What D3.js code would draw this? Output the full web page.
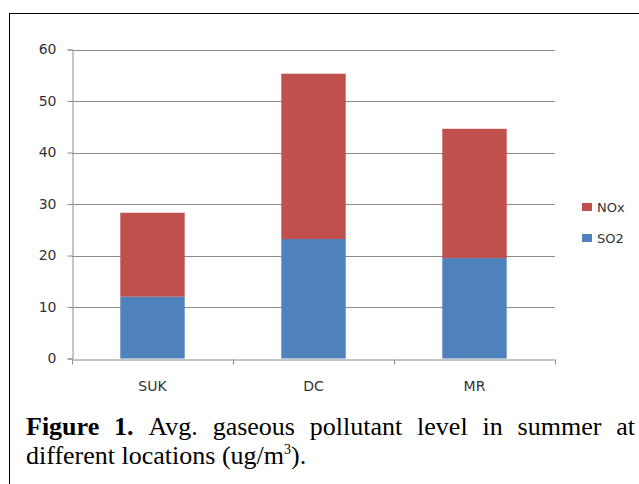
<!DOCTYPE html>
<html>
<head>
<meta charset="utf-8">
<script src="https://cdn.jsdelivr.net/npm/d3@7"></script>
<style>
  body { margin: 0; background: #fff; }
  .tick-label { font-family: "DejaVu Sans", sans-serif; font-size: 14px; fill: #333; }
  .legend-label { font-family: "DejaVu Sans", sans-serif; font-size: 13px; fill: #333; }
  .cap { font-family: "Liberation Serif", "Times New Roman", serif; font-size: 26px; fill: #000; }
</style>
</head>
<body>
<div id="chart"></div>
<script>
var locations = ["SUK", "DC", "MR"];
var so2 = [12.0, 23.2, 19.5];
var nox = [16.3, 32.1, 25.1];
var yTicks = [0, 10, 20, 30, 40, 50, 60];
var seriesNames = ["NOx", "SO2"];
var seriesColors = ["#C0504D", "#4F81BD"];
var captionWords = [["Figure", true], ["1.", true], ["Avg.", false], ["gaseous", false],
  ["pollutant", false], ["level", false], ["in", false], ["summer", false], ["at", false]];

var width = 639, height = 484;
var svg = d3.select("#chart").append("svg")
    .attr("width", width)
    .attr("height", height);

// outer frame
svg.append("rect")
    .attr("x", 9.5).attr("y", 13.5)
    .attr("width", 640).attr("height", 480)
    .attr("fill", "none").attr("stroke", "#000").attr("stroke-width", 1);

var x = d3.scaleBand()
    .domain(locations)
    .range([72, 555])
    .paddingInner(0.6)
    .paddingOuter(0.3);
var y = d3.scaleLinear()
    .domain([0, 60])
    .range([358.5, 49.5]);

// gridlines
svg.append("g").selectAll("line")
    .data(yTicks.filter(function(d) { return d > 0; }))
    .enter().append("line")
    .attr("x1", 72).attr("x2", 555)
    .attr("y1", function(d) { return Math.round(y(d)) + 0.5; })
    .attr("y2", function(d) { return Math.round(y(d)) + 0.5; })
    .attr("stroke", "#8c8c8c");

// stacked bars
var rows = locations.map(function(l, i) { return { loc: l, SO2: so2[i], NOx: nox[i] }; });
var stack = d3.stack().keys(["SO2", "NOx"])(rows);
svg.append("g").selectAll("g")
    .data(stack)
    .enter().append("g")
    .attr("fill", function(d) { return d.key == "SO2" ? seriesColors[1] : seriesColors[0]; })
    .selectAll("rect")
    .data(function(d) { return d; })
    .enter().append("rect")
    .attr("x", function(d) { return x(d.data.loc); })
    .attr("width", x.bandwidth())
    .attr("y", function(d) { return y(d[1]); })
    .attr("height", function(d) { return y(d[0]) - y(d[1]); });

// y axis
var yAxis = d3.axisLeft(y).tickValues(yTicks).tickSize(5).tickPadding(11);
var yg = svg.append("g")
    .attr("transform", "translate(72.5,0)")
    .call(yAxis);
yg.select(".domain").attr("stroke", "#8c8c8c");
yg.selectAll(".tick line").attr("stroke", "#8c8c8c");
yg.selectAll(".tick text").attr("class", "tick-label").attr("font-family", null).attr("font-size", null);

// x axis
var xAxis = d3.axisBottom(x).tickSize(0).tickPadding(22);
var xg = svg.append("g")
    .attr("transform", "translate(0," + (Math.round(y(0)) + 0.5) + ")")
    .call(xAxis);
xg.select(".domain").attr("stroke", "#8c8c8c");
xg.selectAll(".tick text").attr("class", "tick-label").attr("font-family", null).attr("font-size", null);
// tick marks between categories
var edges = locations.map(function(l) { return x(l) - x.step() * x.paddingInner() / 2; });
edges.push(555);
xg.selectAll(".edge")
    .data(edges)
    .enter().append("line")
    .attr("x1", function(d) { return Math.round(d) + 0.5; })
    .attr("x2", function(d) { return Math.round(d) + 0.5; })
    .attr("y1", 0).attr("y2", 5)
    .attr("stroke", "#8c8c8c");

// legend
var legend = svg.append("g").selectAll("g")
    .data(seriesNames)
    .enter().append("g")
    .attr("transform", function(d, i) { return "translate(582," + (203 + i * 31) + ")"; });
legend.append("rect")
    .attr("width", 10).attr("height", 8)
    .attr("fill", function(d, i) { return seriesColors[i]; });
legend.append("text")
    .attr("class", "legend-label")
    .attr("x", 15).attr("y", 4).attr("dy", "0.35em")
    .text(function(d) { return d; });

// caption, first line justified
var capX0 = 26, capX1 = 635;
var capWords = svg.append("g").selectAll("text")
    .data(captionWords)
    .enter().append("text")
    .attr("class", "cap")
    .attr("y", 435)
    .attr("font-weight", function(d) { return d[1] ? "bold" : "normal"; })
    .text(function(d) { return d[0]; });
var widths = [];
capWords.each(function() { widths.push(this.getComputedTextLength()); });
var gap = (capX1 - capX0 - d3.sum(widths)) / (widths.length - 1);
var cx = capX0;
capWords.attr("x", function(d, i) { var p = cx; cx += widths[i] + gap; return p; });

var line2 = svg.append("text")
    .attr("class", "cap")
    .attr("x", capX0).attr("y", 464);
line2.append("tspan").text("different locations (ug/m");
line2.append("tspan").attr("font-size", "14px").attr("dy", -10).text("3");
line2.append("tspan").attr("dy", 10).text(").");
</script>
</body>
</html>
